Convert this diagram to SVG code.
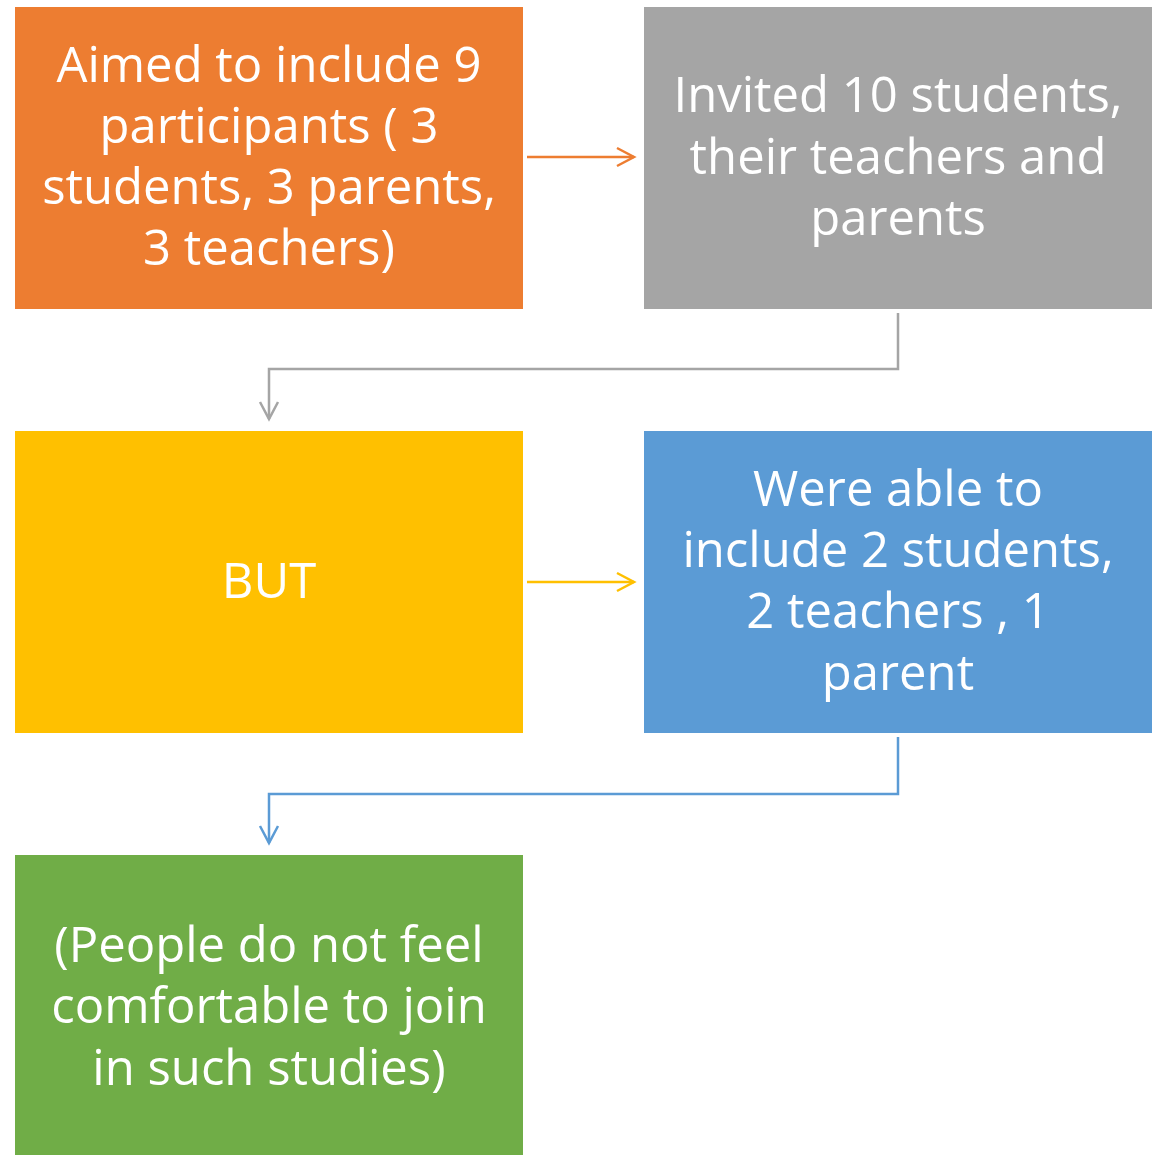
<svg xmlns="http://www.w3.org/2000/svg" width="1159" height="1155" viewBox="0 0 1159 1155">
  <style>
    .box text { font-family: "Open Sans", "Liberation Sans", sans-serif; font-size: 49px; fill: #ffffff; text-anchor: middle; }
    .conn { fill: none; stroke-width: 2.5; }
  </style>
  <defs>
    <marker id="headOrange" markerUnits="userSpaceOnUse" markerWidth="24" markerHeight="24" refX="18" refY="10" orient="auto" overflow="visible">
      <path d="M1,1 L18,10 L1,19" fill="none" stroke="#ED7D31" stroke-width="2.5"/>
    </marker>
    <marker id="headGray" markerUnits="userSpaceOnUse" markerWidth="24" markerHeight="24" refX="18" refY="10" orient="auto" overflow="visible">
      <path d="M1,1 L18,10 L1,19" fill="none" stroke="#A5A5A5" stroke-width="2.5"/>
    </marker>
    <marker id="headYellow" markerUnits="userSpaceOnUse" markerWidth="24" markerHeight="24" refX="18" refY="10" orient="auto" overflow="visible">
      <path d="M1,1 L18,10 L1,19" fill="none" stroke="#FFC000" stroke-width="2.5"/>
    </marker>
    <marker id="headBlue" markerUnits="userSpaceOnUse" markerWidth="24" markerHeight="24" refX="18" refY="10" orient="auto" overflow="visible">
      <path d="M1,1 L18,10 L1,19" fill="none" stroke="#5B9BD5" stroke-width="2.5"/>
    </marker>
  </defs>
  <rect width="1159" height="1155" fill="#ffffff"/>

  <g id="connectors">
    <path class="conn" stroke="#ED7D31" d="M527,157 H634" marker-end="url(#headOrange)"/>
    <path class="conn" stroke="#A5A5A5" d="M898,313 V369 H269 V419" marker-end="url(#headGray)"/>
    <path class="conn" stroke="#FFC000" d="M527,582 H634" marker-end="url(#headYellow)"/>
    <path class="conn" stroke="#5B9BD5" d="M898,737 V794 H269 V843" marker-end="url(#headBlue)"/>
  </g>

  <g id="aimed" class="box">
    <rect x="15" y="7" width="508" height="302" fill="#ED7D31"/>
    <text x="269" y="82">Aimed to include 9</text>
    <text x="269" y="143">participants ( 3</text>
    <text x="269" y="204">students, 3 parents,</text>
    <text x="269" y="265">3 teachers)</text>
  </g>

  <g id="invited" class="box">
    <rect x="644" y="7" width="508" height="302" fill="#A5A5A5"/>
    <text x="898" y="112">Invited 10 students,</text>
    <text x="898" y="174">their teachers and</text>
    <text x="898" y="235">parents</text>
  </g>

  <g id="but" class="box">
    <rect x="15" y="431" width="508" height="302" fill="#FFC000"/>
    <text x="269" y="598">BUT</text>
  </g>

  <g id="included" class="box">
    <rect x="644" y="431" width="508" height="302" fill="#5B9BD5"/>
    <text x="898" y="506">Were able to</text>
    <text x="898" y="567">include 2 students,</text>
    <text x="898" y="628">2 teachers , 1</text>
    <text x="898" y="690">parent</text>
  </g>

  <g id="reason" class="box">
    <rect x="15" y="855" width="508" height="300" fill="#70AD47"/>
    <text x="269" y="962">(People do not feel</text>
    <text x="269" y="1023">comfortable to join</text>
    <text x="269" y="1085">in such studies)</text>
  </g>
</svg>
